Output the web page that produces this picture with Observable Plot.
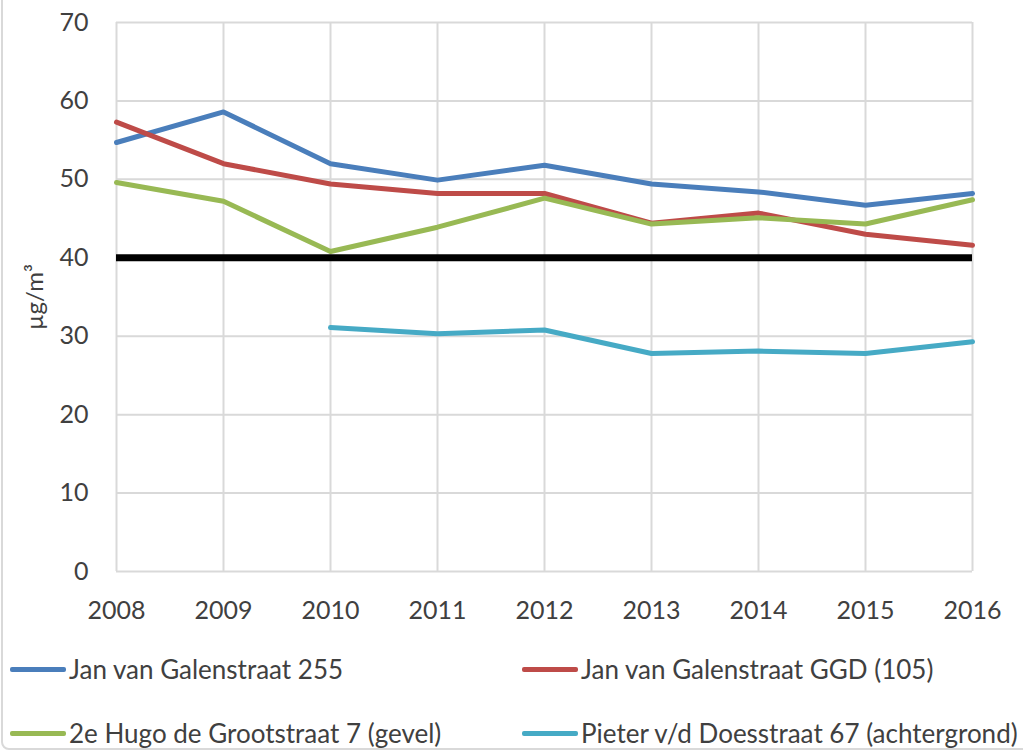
<!DOCTYPE html>
<html><head><meta charset="utf-8">
<script src="https://cdn.jsdelivr.net/npm/d3@7"></script>
<script src="https://cdn.jsdelivr.net/npm/@observablehq/plot@0.6"></script>
<style>
body{margin:0;background:#fff;}
#chart{position:relative;width:1023px;height:751px;font-family:Lato, "Liberation Sans", sans-serif;color:#404040;overflow:hidden;background:#fff}
#frame{position:absolute;left:1px;top:-12px;width:1040px;height:762px;border:2px solid #d9d9d9;border-radius:8px;box-sizing:border-box;pointer-events:none}
#plot{position:absolute;left:0;top:0}
.legend-item{position:absolute;display:flex;align-items:center;font-size:26px;white-space:nowrap;height:30px;line-height:30px}
.sw{width:56px;height:5px;margin-right:3px;border-radius:2px}
</style>
</head><body>
<div id="chart"><div id="plot"></div><div id="legend"></div><div id="frame"></div></div>
<script>
const years = [2008, 2009, 2010, 2011, 2012, 2013, 2014, 2015, 2016];
const yTicks = [0, 10, 20, 30, 40, 50, 60, 70];
const seriesNames = [
  "Jan van Galenstraat 255",
  "Jan van Galenstraat GGD (105)",
  "2e Hugo de Grootstraat 7 (gevel)",
  "Pieter v/d Doesstraat 67 (achtergrond)"
];
const seriesColors = ["#4a7ebb", "#be4b48", "#98b954", "#46aac5"];
const janVanGalen255 = [54.7, 58.6, 52.0, 49.9, 51.8, 49.4, 48.4, 46.7, 48.2];
const janVanGalenGGD = [57.3, 52.0, 49.4, 48.2, 48.2, 44.4, 45.7, 43.0, 41.6];
const hugoDeGroot    = [49.6, 47.2, 40.8, 43.9, 47.6, 44.3, 45.1, 44.3, 47.4];
const pieterVdDoes   = [null, null, 31.1, 30.3, 30.8, 27.8, 28.1, 27.8, 29.3];
const limitValue = 40;
const yLabel = "µg/m³";

const seriesValues = [janVanGalen255, janVanGalenGGD, hugoDeGroot, pieterVdDoes];
const rows = [];
seriesValues.forEach((vals, i) => {
  vals.forEach((v, j) => rows.push({series: seriesNames[i], year: years[j], value: v}));
});

const chart = Plot.plot({
  width: 1023,
  height: 640,
  marginLeft: 116,
  marginRight: 51,
  marginTop: 22,
  marginBottom: 69,
  style: {fontFamily: 'Lato, "Liberation Sans", sans-serif', fontSize: "25px", color: "#404040", background: "transparent", overflow: "visible"},
  x: {domain: [2008, 2016], type: "linear"},
  y: {domain: [0, 70]},
  color: {domain: seriesNames, range: seriesColors},
  marks: [
    Plot.gridX(years, {stroke: "#d9d9d9", strokeOpacity: 1, strokeWidth: 2}),
    Plot.gridY(yTicks, {stroke: "#d9d9d9", strokeOpacity: 1, strokeWidth: 2}),
    Plot.axisX(years, {tickSize: 0, tickPadding: 30, tickFormat: d => String(d), fontSize: 25, label: null}),
    Plot.axisY(yTicks, {tickSize: 0, tickPadding: 28, fontSize: 25, label: null}),
    Plot.text([yLabel], {text: d => d, frameAnchor: "left", textAnchor: "middle", rotate: -90, dx: -81, fontSize: "24px", fill: "#404040"}),
    Plot.ruleY([limitValue], {stroke: "#000", strokeWidth: 7}),
    Plot.line(rows, {x: "year", y: "value", z: "series", stroke: "series", strokeWidth: 5, strokeLinejoin: "round", strokeLinecap: "round"})
  ]
});
document.getElementById("plot").appendChild(chart);

const legendPos = [[10, 654], [522, 654], [10, 718], [522, 718]];
const legend = document.getElementById("legend");
seriesNames.forEach((name, i) => {
  const item = document.createElement("div");
  item.className = "legend-item";
  item.style.left = legendPos[i][0] + "px";
  item.style.top = legendPos[i][1] + "px";
  const sw = document.createElement("span");
  sw.className = "sw";
  sw.style.background = seriesColors[i];
  const t = document.createElement("span");
  t.textContent = name;
  item.appendChild(sw);
  item.appendChild(t);
  legend.appendChild(item);
});
</script>
</body></html>
